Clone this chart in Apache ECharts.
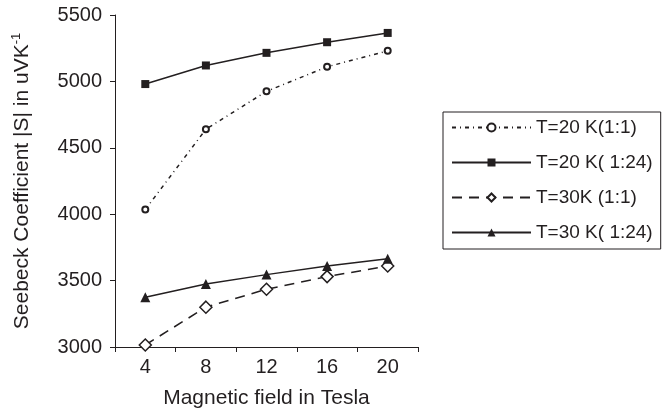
<!DOCTYPE html>
<html>
<head>
<meta charset="utf-8">
<script src="https://cdn.jsdelivr.net/npm/echarts@6/dist/echarts.min.js"></script>
<style>
    html, body { margin: 0; padding: 0; background: #fff; }
    #chart { width: 670px; height: 417px; }
</style>
</head>
<body>
<div id="chart"></div>
<script>
// field values (Tesla)
var fields = ['4', '8', '12', '16', '20']
// Seebeck coefficient readings, uV/K
var t20Ratio1 = [4035, 4640, 4925, 5110, 5230]
var t20Ratio24 = [4980, 5120, 5215, 5295, 5365]
var t30Ratio1 = [3015, 3300, 3435, 3530, 3610]
var t30Ratio24 = [3375, 3475, 3545, 3610, 3665]
var seriesNames = ['T=20 K(1:1)', 'T=20 K( 1:24)', 'T=30K (1:1)', 'T=30 K( 1:24)']

var ink = '#231f20'
var font = 'Liberation Sans, Arial, sans-serif'

var myChart = echarts.init(document.getElementById('chart'))
myChart.setOption({
    animation: false,
    textStyle: { fontFamily: font, color: ink },
    grid: { left: 115, right: 252, top: 15, bottom: 70 },
    legend: {
        orient: 'vertical',
        left: 443,
        top: 112,
        padding: [6, 8, 7, 8],
        borderColor: ink,
        borderWidth: 1,
        borderRadius: 0,
        itemWidth: 79,
        itemHeight: 10,
        itemGap: 16,
        textStyle: { fontSize: 19, lineHeight: 19, color: ink, fontFamily: font },
        data: seriesNames
    },
    xAxis: {
        type: 'category',
        data: fields,
        boundaryGap: true,
        name: 'Magnetic field in Tesla',
        nameLocation: 'middle',
        nameGap: 41,
        nameTextStyle: { fontSize: 21, color: ink },
        axisLine: { lineStyle: { color: ink, width: 1 } },
        axisTick: { show: true, length: 5, inside: false, lineStyle: { color: ink } },
        axisLabel: { fontSize: 20, color: ink, margin: 10 },
        splitLine: { show: false }
    },
    yAxis: {
        type: 'value',
        min: 3000,
        max: 5500,
        interval: 500,
        name: '{a|Seebeck Coefficient |S| in uVK}{b|-1}',
        nameLocation: 'middle',
        nameRotate: 90,
        nameGap: 80,
        nameTextStyle: {
            rich: {
                a: { fontSize: 21, color: ink, fontFamily: font },
                b: { fontSize: 13, color: ink, fontFamily: font, verticalAlign: 'top', padding: [0, 0, 12, 0] }
            }
        },
        axisLine: { show: true, lineStyle: { color: ink, width: 1 } },
        axisTick: { show: true, length: 5, lineStyle: { color: ink } },
        axisLabel: {
            fontSize: 20,
            color: ink,
            margin: 13,
            formatter: function (v) { return String(v) }
        },
        splitLine: { show: false }
    },
    series: [
        {
            name: seriesNames[0],
            type: 'line',
            data: t20Ratio1,
            symbol: 'circle',
            symbolSize: 6,
            lineStyle: { color: ink, width: 1.5, type: [4, 4, 1, 4] },
            itemStyle: { color: '#fff', borderColor: ink, borderWidth: 2 }
        },
        {
            name: seriesNames[1],
            type: 'line',
            data: t20Ratio24,
            symbol: 'rect',
            symbolSize: 8,
            lineStyle: { color: ink, width: 1.5 },
            itemStyle: { color: ink }
        },
        {
            name: seriesNames[2],
            type: 'line',
            data: t30Ratio1,
            symbol: 'diamond',
            symbolSize: [12, 12],
            z: 3,
            lineStyle: { color: ink, width: 1.5, type: [10, 7] },
            itemStyle: { color: '#fff', borderColor: ink, borderWidth: 1.5 }
        },
        {
            name: seriesNames[3],
            type: 'line',
            data: t30Ratio24,
            symbol: 'triangle',
            symbolSize: 10,
            lineStyle: { color: ink, width: 1.5 },
            itemStyle: { color: ink }
        }
    ]
})
</script>
</body>
</html>
